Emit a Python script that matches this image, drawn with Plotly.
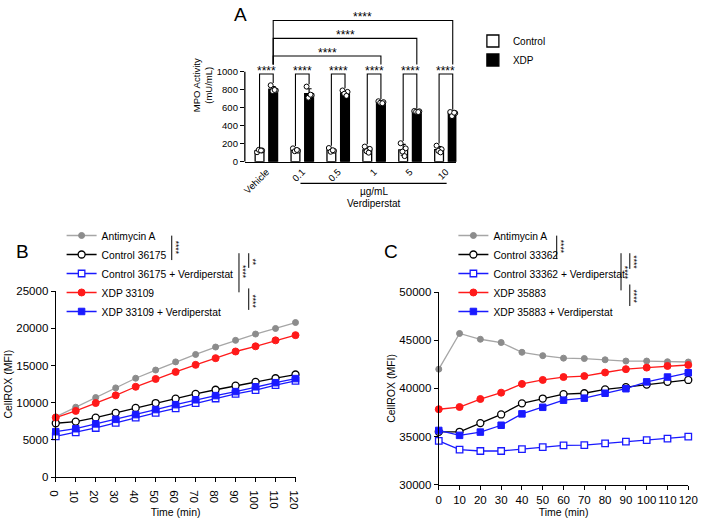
import numpy as np
import plotly.graph_objects as go

W, H = 709, 526
FONT = "Liberation Sans, Arial, sans-serif"


def px(x):
    return x / W


def py(y):
    return 1 - y / H


# ---------------- Panel A data ----------------
doses = ["Vehicle", "0.1", "0.5", "1", "5", "10"]
control_pts = [
    [105, 125, 132, 124],
    [148, 122, 116, 130],
    [152, 121, 110, 127],
    [168, 142, 116, 100],
    [205, 148, 112, 62],
    [178, 138, 120, 103],
]
xdp_pts = [
    [850, 792, 786, 798],
    [835, 738, 712, 745],
    [792, 776, 755, 732],
    [672, 662, 655, 650],
    [564, 560, 556, 552],
    [552, 540, 507, 545],
]
pair_stars = ["****"] * 6
long_pairs = [(0, 3, "****"), (0, 4, "****"), (0, 5, "****")]

# ---------------- Panel B data ----------------
time_min = [0, 10, 20, 30, 40, 50, 60, 70, 80, 90, 100, 110, 120]
b_names = ["Antimycin A", "Control 36175", "Control 36175 + Verdiperstat",
           "XDP 33109", "XDP 33109 + Verdiperstat"]
b_antimycin = [8100, 9400, 10700, 12000, 13300, 14400, 15500, 16500, 17500, 18400, 19250, 20000, 20800]
b_control = [7240, 7460, 8000, 8640, 9300, 9960, 10550, 11200, 11750, 12300, 12800, 13300, 13800]
b_control_v = [5480, 6000, 6600, 7300, 8000, 8640, 9250, 9960, 10570, 11200, 11700, 12370, 12940]
b_xdp = [8000, 8900, 9960, 11000, 12150, 13200, 14150, 15100, 16000, 16900, 17600, 18400, 19100]
b_xdp_v = [6100, 6500, 7150, 7760, 8400, 9080, 9740, 10400, 10960, 11500, 12150, 12700, 13250]

# ---------------- Panel C data ----------------
c_names = ["Antimycin A", "Control 33362", "Control 33362 + Verdiperstat",
           "XDP 35883", "XDP 35883 + Verdiperstat"]
c_antimycin = [42000, 45700, 45100, 44760, 43750, 43400, 43140, 43100, 42970, 42840, 42840, 42770, 42740]
c_control = [35500, 35500, 36400, 37300, 38450, 38950, 39400, 39500, 39900, 40130, 40400, 40680, 40880]
c_control_v = [34560, 33650, 33510, 33510, 33700, 33900, 34090, 34120, 34290, 34490, 34630, 34800, 35000]
c_xdp = [37840, 38070, 38900, 39560, 40470, 40880, 41180, 41280, 41650, 42000, 42160, 42330, 42430]
c_xdp_v = [35640, 35130, 35470, 36180, 37360, 38040, 38780, 38990, 39500, 39970, 40680, 41180, 41620]

GRAY_M, GRAY_L = "#8c8c8c", "#a6a6a6"
RED, BLUE = "#ff1a1a", "#1a1aff"

fig = go.Figure()

# ---------------- Panel A ----------------
gx = np.arange(len(doses))
off = 0.19
bw = 0.245
jit = np.array([-0.07, 0.07, -0.02, 0.04])
ctrl_mean = [float(np.mean(p)) for p in control_pts]
ctrl_sd = [float(np.std(p, ddof=1)) for p in control_pts]
xdp_mean = [float(np.mean(p)) for p in xdp_pts]
xdp_sd = [float(np.std(p, ddof=1)) for p in xdp_pts]

fig.add_trace(go.Bar(
    x=gx - off, y=ctrl_mean, width=bw, name="Control",
    marker=dict(color="white", line=dict(color="black", width=1.3)),
    error_y=dict(type="data", array=ctrl_sd, color="black", thickness=1.2, width=2.5),
    xaxis="x", yaxis="y", legend="legend"))
fig.add_trace(go.Bar(
    x=gx + off, y=xdp_mean, width=bw, name="XDP",
    marker=dict(color="black", line=dict(color="black", width=1.3)),
    error_y=dict(type="data", array=xdp_sd, color="black", thickness=1.2, width=2.5),
    xaxis="x", yaxis="y", legend="legend"))

for pts_list, sign in ((control_pts, -1), (xdp_pts, 1)):
    xs, ys = [], []
    for i, pts in enumerate(pts_list):
        for j, v in enumerate(pts):
            xs.append(i + sign * off + jit[j % len(jit)])
            ys.append(v)
    fig.add_trace(go.Scatter(
        x=xs, y=ys, mode="markers", showlegend=False, cliponaxis=False,
        marker=dict(symbol="circle", size=5, color="white", line=dict(color="black", width=1)),
        xaxis="x", yaxis="y", hoverinfo="skip"))

shapes = []
annotations = []
LW = 1.1
STAR = dict(size=12, color="black", family=FONT)
# pairwise brackets
pair_top = 975
for i in range(len(doses)):
    x0, x1 = i - off, i + off
    yb0 = max(control_pts[i]) + 25
    yb1 = max(xdp_pts[i]) + 25
    shapes.append(dict(type="path", xref="x", yref="y",
                       path=f"M {x0},{yb0} L {x0},{pair_top} L {x1},{pair_top} L {x1},{yb1}",
                       line=dict(color="black", width=LW)))
    annotations.append(dict(x=i, y=pair_top, xref="x", yref="y", text=pair_stars[i],
                            showarrow=False, xanchor="center", yanchor="bottom", yshift=-6,
                            font=STAR))
# long brackets
long_tops = [1175, 1371, 1571]
for (a, b, s), top in zip(long_pairs, long_tops):
    x0, x1 = a + off, b + off
    shapes.append(dict(type="path", xref="x", yref="y",
                       path=f"M {x0},1080 L {x0},{top} L {x1},{top} L {x1},1080",
                       line=dict(color="black", width=LW)))
    annotations.append(dict(x=(x0 + x1) / 2, y=top, xref="x", yref="y", text=s,
                            showarrow=False, xanchor="center", yanchor="bottom", yshift=-6,
                            font=STAR))
# y axis line for A (only to 1000)
shapes.append(dict(type="line", xref="x domain", yref="y", x0=0, x1=0, y0=0, y1=1000,
                   line=dict(color="black", width=1.3)))
# dose underline
shapes.append(dict(type="line", xref="x", yref="paper", x0=0.95, x1=5.02,
                   y0=py(181.5), y1=py(181.5), line=dict(color="black", width=1.3)))
annotations.append(dict(x=3, y=py(190), xref="x", yref="paper", text="µg/mL", showarrow=False,
                        xanchor="center", yanchor="middle",
                        font=dict(size=10, color="black", family=FONT)))
annotations.append(dict(x=3, y=py(202), xref="x", yref="paper", text="Verdiperstat", showarrow=False,
                        xanchor="center", yanchor="middle",
                        font=dict(size=10, color="black", family=FONT)))

# ---------------- Panels B and C ----------------
styles = [
    dict(symbol="circle", size=6, color=GRAY_M, line=dict(color=GRAY_M, width=1)),
    dict(symbol="circle", size=7, color="white", line=dict(color="black", width=1.3)),
    dict(symbol="square", size=6.5, color="white", line=dict(color=BLUE, width=1.3)),
    dict(symbol="circle", size=7, color=RED, line=dict(color=RED, width=1)),
    dict(symbol="square", size=6.5, color=BLUE, line=dict(color=BLUE, width=1)),
]
line_cols = [GRAY_L, "black", BLUE, RED, BLUE]

b_series = [b_antimycin, b_control, b_control_v, b_xdp, b_xdp_v]
c_series = [c_antimycin, c_control, c_control_v, c_xdp, c_xdp_v]

for names, series, xa, ya, lg in ((b_names, b_series, "x2", "y2", "legend2"),
                                  (c_names, c_series, "x3", "y3", "legend3")):
    for k in range(5):
        fig.add_trace(go.Scatter(
            x=time_min, y=series[k], name=names[k], mode="lines+markers",
            line=dict(color=line_cols[k], width=1.3), marker=styles[k],
            cliponaxis=False, xaxis=xa, yaxis=ya, legend=lg, legendrank=k + 1))


def sig(x, y0, y1, text, tx, ty):
    shapes.append(dict(type="line", xref="paper", yref="paper", x0=px(x), x1=px(x),
                       y0=py(y0), y1=py(y1), line=dict(color="black", width=1)))
    annotations.append(dict(x=px(tx), y=py(ty), xref="paper", yref="paper", text=text,
                            textangle=90, showarrow=False, xanchor="center", yanchor="middle",
                            font=dict(size=8.5, color="black", family=FONT)))


# B significance
sig(168, 235, 260, "****", 172, 247)
sig(237, 253, 293, "****", 241, 272)
sig(247, 253, 268, "**", 251, 262)
sig(247, 289, 311, "****", 251, 302)
# C significance
sig(563, 235, 259, "****", 567, 246)
sig(629, 253, 291, "****", 633, 273)
sig(638, 253, 269, "****", 642, 262)
sig(638, 285, 307, "****", 642, 297)

# panel letters
for letter, x, y, sz in (("A", 239, 9, 19), ("B", 15, 251, 19), ("C", 393, 251, 19)):
    annotations.append(dict(x=px(x), y=py(y), xref="paper", yref="paper", text=letter,
                            showarrow=False, xanchor="center", yanchor="middle",
                            font=dict(size=sz, color="black", family=FONT)))

axis_common = dict(showgrid=False, zeroline=False, linecolor="black", linewidth=1.3,
                   ticks="outside", ticklen=4, tickwidth=1.3, tickcolor="black",
                   tickfont=dict(size=11.5, color="black", family=FONT))

fig.update_layout(
    width=W, height=H, margin=dict(l=0, r=0, t=0, b=0),
    paper_bgcolor="white", plot_bgcolor="white",
    barmode="overlay", showlegend=True,
    font=dict(family=FONT, color="black"),
    shapes=shapes, annotations=annotations,
    xaxis=dict(domain=[px(243), px(460)], range=[-0.6, 5.29], anchor="y",
               tickvals=list(gx), ticktext=doses, tickangle=-45,
               showgrid=False, zeroline=False, showline=True, linecolor="black", linewidth=1.3,
               ticks="", tickfont=dict(size=9.5, color="black", family=FONT)),
    yaxis=dict(domain=[py(159.3), py(2.9)], range=[0, 1700], anchor="x",
               tickvals=[0, 200, 400, 600, 800, 1000], showline=False, showgrid=False,
               zeroline=False, ticks="outside", ticklen=4, tickwidth=1.3, tickcolor="black",
               tickfont=dict(size=9.5, color="black", family=FONT),
               title=dict(text="MPO Activity<br>(mU/mL)", standoff=2,
                          font=dict(size=9.5, color="black", family=FONT))),
    xaxis2=dict(domain=[px(49), px(295)], range=[0, 120], anchor="y2", showline=True,
                tickvals=time_min,
                title=dict(text="Time (min)", standoff=0, font=dict(size=10.5, family=FONT)),
                **axis_common),
    yaxis2=dict(domain=[py(482), py(292)], range=[0, 25000], anchor="x2", showline=True,
                tickvals=[0, 5000, 10000, 15000, 20000, 25000], tickformat="d",
                title=dict(text="CellROX (MFI)", standoff=1, font=dict(size=10.5, family=FONT)),
                **axis_common),
    xaxis3=dict(domain=[px(442), px(698)], range=[0, 120], anchor="y3", showline=True,
                tickvals=time_min,
                title=dict(text="Time (min)", standoff=0, font=dict(size=10.5, family=FONT)),
                **axis_common),
    yaxis3=dict(domain=[py(490), py(292.7)], range=[30000, 50000], anchor="x3", showline=True,
                tickvals=[30000, 35000, 40000, 45000, 50000], tickformat="d",
                title=dict(text="CellROX (MFI)", standoff=1, font=dict(size=10.5, family=FONT)),
                **axis_common),
    legend=dict(x=px(477), y=py(21), xanchor="left", yanchor="top", bgcolor="rgba(0,0,0,0)",
                font=dict(size=10, color="black", family=FONT), traceorder="normal"),
    legend2=dict(x=px(55), y=py(220), xanchor="left", yanchor="top", bgcolor="rgba(0,0,0,0)",
                 font=dict(size=10.3, color="black", family=FONT), traceorder="normal"),
    legend3=dict(x=px(457), y=py(220), xanchor="left", yanchor="top", bgcolor="rgba(0,0,0,0)",
                 font=dict(size=10.3, color="black", family=FONT), traceorder="normal"),
)

fig.write_html("out.html", config={"displayModeBar": False},
               post_script="document.body.style.margin='0';")
